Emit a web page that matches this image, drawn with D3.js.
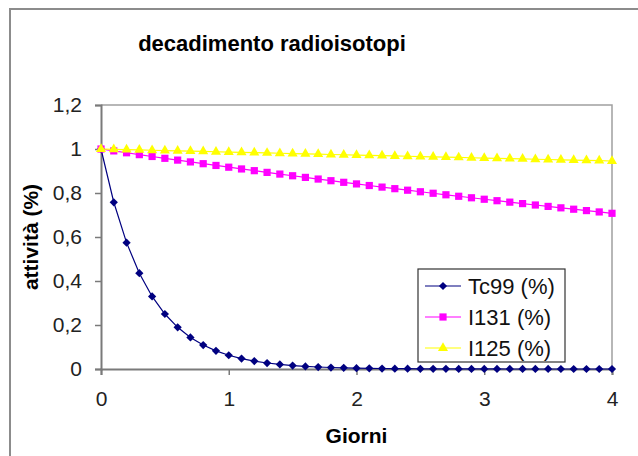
<!DOCTYPE html>
<html>
<head>
<meta charset="utf-8">
<script src="https://cdn.jsdelivr.net/npm/d3@7"></script>
<style>
  html, body { margin: 0; padding: 0; background: #fff; }
  svg { display: block; font-family: Arial, "Liberation Sans", sans-serif; }
</style>
</head>
<body>
<svg width="638" height="456"></svg>
<script>
const width = 638;
const height = 456;

const giorni = [0, 0.1, 0.2, 0.3, 0.4, 0.5, 0.6, 0.7, 0.8, 0.9,
  1, 1.1, 1.2, 1.3, 1.4, 1.5, 1.6, 1.7, 1.8, 1.9,
  2, 2.1, 2.2, 2.3, 2.4, 2.5, 2.6, 2.7, 2.8, 2.9,
  3, 3.1, 3.2, 3.3, 3.4, 3.5, 3.6, 3.7, 3.8, 3.9, 4];

const tc99 = [1, 0.7579, 0.5743, 0.4353, 0.3299, 0.25, 0.1895, 0.1436, 0.1088, 0.0825,
  0.0625, 0.0474, 0.0359, 0.0272, 0.0206, 0.0156, 0.0118, 0.009, 0.0068, 0.0052,
  0.0039, 0.003, 0.0022, 0.0017, 0.0013, 0.001, 0.0007, 0.0006, 0.0004, 0.0003,
  0.0002, 0.0002, 0.0001, 0.0001, 0.0001, 0.0001, 0, 0, 0, 0, 0];

const i131 = [1, 0.9914, 0.9829, 0.9744, 0.966, 0.9577, 0.9495, 0.9413, 0.9332, 0.9252,
  0.9172, 0.9093, 0.9015, 0.8937, 0.886, 0.8784, 0.8709, 0.8634, 0.8559, 0.8486,
  0.8413, 0.834, 0.8268, 0.8197, 0.8127, 0.8057, 0.7988, 0.7919, 0.7851, 0.7783,
  0.7716, 0.765, 0.7584, 0.7519, 0.7454, 0.739, 0.7326, 0.7263, 0.7201, 0.7139, 0.7077];

const i125 = [1, 0.9986, 0.9972, 0.9958, 0.9944, 0.993, 0.9916, 0.9902, 0.9889, 0.9875,
  0.9861, 0.9847, 0.9833, 0.982, 0.9806, 0.9792, 0.9779, 0.9765, 0.9751, 0.9738,
  0.9724, 0.971, 0.9697, 0.9683, 0.967, 0.9656, 0.9643, 0.9629, 0.9616, 0.9602,
  0.9589, 0.9575, 0.9562, 0.9549, 0.9535, 0.9522, 0.9508, 0.9495, 0.9482, 0.9469, 0.9455];

const xTicks = [0, 1, 2, 3, 4];
const yTicks = [0, 0.2, 0.4, 0.6, 0.8, 1, 1.2];
const seriesNames = ["Tc99 (%)", "I131 (%)", "I125 (%)"];

const series = [
  { name: seriesNames[0], values: tc99, color: "#000080", shape: "diamond" },
  { name: seriesNames[1], values: i131, color: "#ff00ff", shape: "square" },
  { name: seriesNames[2], values: i125, color: "#ffff00", shape: "triangle" }
];

const plot = { left: 101, right: 612, top: 105, bottom: 369 };

const x = d3.scaleLinear().domain([0, 4]).range([plot.left, plot.right]);
const y = d3.scaleLinear().domain([0, 1.2]).range([plot.bottom, plot.top]);

const svg = d3.select("svg");
const fmt = d => d3.format("~g")(d).replace(".", ",");

// chart frame
svg.append("rect")
  .attr("x", 10).attr("y", 9)
  .attr("width", 700).attr("height", 500)
  .attr("fill", "#fff")
  .attr("stroke", "#8c8c8c")
  .attr("stroke-width", 2);

svg.append("text")
  .attr("x", 272).attr("y", 51)
  .attr("text-anchor", "middle")
  .attr("font-size", 22)
  .attr("font-weight", "bold")
  .text("decadimento radioisotopi");

// plot border (top / right)
svg.append("path")
  .attr("d", `M${plot.left},${plot.top}H${plot.right}V${plot.bottom}`)
  .attr("fill", "none")
  .attr("stroke", "#a0a0a0")
  .attr("stroke-width", 1.5);

const yAxis = svg.append("g")
  .attr("transform", `translate(${plot.left},0)`)
  .call(d3.axisLeft(y).tickValues(yTicks).tickFormat(fmt).tickSize(6).tickPadding(13));

const xAxis = svg.append("g")
  .attr("transform", `translate(0,${plot.bottom})`)
  .call(d3.axisBottom(x).tickValues(xTicks).tickFormat(fmt).tickSize(6).tickPadding(16));

[yAxis, xAxis].forEach(a => {
  a.select(".domain").attr("stroke", "#7a7a7a").attr("stroke-width", 2);
  a.selectAll(".tick line").attr("stroke", "#7a7a7a").attr("stroke-width", 1.5);
  a.selectAll(".tick text")
    .attr("fill", "#222")
    .attr("font-size", 21)
    .attr("font-family", "Arial, 'Liberation Sans', sans-serif");
});

svg.append("text")
  .attr("x", (plot.left + plot.right) / 2).attr("y", 443)
  .attr("text-anchor", "middle")
  .attr("font-size", 21)
  .attr("font-weight", "bold")
  .text("Giorni");

svg.append("text")
  .attr("transform", `translate(38,${(plot.top + plot.bottom) / 2}) rotate(-90)`)
  .attr("text-anchor", "middle")
  .attr("font-size", 21)
  .attr("font-weight", "bold")
  .text("attività (%)");

const symbols = {
  diamond: d3.symbol().type(d3.symbolSquare).size(34),
  square: d3.symbol().type(d3.symbolSquare).size(52),
  triangle: d3.symbol().type(d3.symbolTriangle).size(44)
};

function marker(sel, s) {
  sel.attr("d", symbols[s.shape]())
    .attr("fill", s.color)
    .attr("stroke", "none");
}

const line = d3.line().x((d, i) => x(giorni[i])).y(d => y(d));

series.forEach(s => {
  const g = svg.append("g");
  g.append("path")
    .attr("d", line(s.values))
    .attr("fill", "none")
    .attr("stroke", s.color)
    .attr("stroke-width", 1.2);
  g.selectAll("path.pt")
    .data(s.values)
    .join("path")
    .attr("class", "pt")
    .attr("transform", (d, i) => `translate(${x(giorni[i])},${y(d)})` + (s.shape === "diamond" ? " rotate(45)" : ""))
    .call(marker, s);
});

// legend
const legend = svg.append("g");
legend.append("rect")
  .attr("x", 418).attr("y", 269)
  .attr("width", 147).attr("height", 93)
  .attr("fill", "#fff")
  .attr("stroke", "#333")
  .attr("stroke-width", 1.2);

series.forEach((s, i) => {
  const cy = 286 + i * 31;
  legend.append("line")
    .attr("x1", 425).attr("x2", 461)
    .attr("y1", cy).attr("y2", cy)
    .attr("stroke", s.color)
    .attr("stroke-width", 1.2);
  legend.append("path")
    .attr("transform", `translate(443,${cy})` + (s.shape === "diamond" ? " rotate(45)" : ""))
    .call(marker, s);
  legend.append("text")
    .attr("x", 468).attr("y", cy)
    .attr("dy", "0.36em")
    .attr("font-size", 22)
    .attr("fill", "#111")
    .text(s.name);
});
</script>
</body>
</html>
